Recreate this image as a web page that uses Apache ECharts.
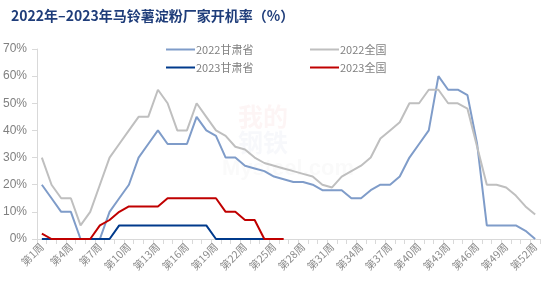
<!DOCTYPE html>
<html><head><meta charset="utf-8">
<script src="https://cdn.jsdelivr.net/npm/echarts@6/dist/echarts.min.js"></script>
<style>html,body{margin:0;padding:0;background:#fff}#c{width:554px;height:285px}</style>
</head><body><div id="c"></div>
<script>
var weeks = [];
for (var i = 1; i <= 52; i++) weeks.push('第' + i + '周');
var gansu2022 = [20,15,10,10,0,0,0,10,15,20,30,35,40,35,35,35,45,40,38,30,30,27,26,25,23,22,21,21,20,18,18,18,15,15,18,20,20,23,30,35,40,60,55,55,53,35,5,5,5,5,3,0];
var national2022 = [30,20,15,15,5,10,20,30,35,40,45,45,55,50,40,40,50,45,40,38,34,33,30,28,27,26,25,24,23,20,19,23,25,27,30,37,40,43,50,50,55,55,50,50,48,34,20,20,19,16,12,9];
var gansu2023 = [0,0,0,0,0,0,0,0,5,5,5,5,5,5,5,5,5,5,0,0,0,0,0,0,0];
var national2023 = [2,0,0,0,0,0,5,7,10,12,12,12,12,15,15,15,15,15,15,10,10,7,7,0,0,0];
var names = ['2022甘肃省','2022全国','2023甘肃省','2023全国'];
var colors = ['#7F9CC9','#BFBFBF','#003A8C','#C00000'];
var datas = [gansu2022, national2022, gansu2023, national2023];

var chart = echarts.init(document.getElementById('c'));
var font = 'Noto Sans CJK SC';
var legendCommon = {orient: 'vertical', top: 39, itemWidth: 29, itemHeight: 2, itemGap: 7,
  icon: 'rect',
  textStyle: {fontFamily: font, fontSize: 11, color: '#808080', padding: [0,0,0,-4]}};
chart.setOption({
  animation: false,
  color: colors,
  title: {
    text: '2022年–2023年马铃薯淀粉厂家开机率（%）',
    left: 6, top: 4,
    textStyle: {fontFamily: font, fontSize: 14, fontWeight: 'bold', color: '#1F3D7A'}
  },
  legend: [
    Object.assign({data: ['2022甘肃省','2023甘肃省'], left: 161}, legendCommon),
    Object.assign({data: ['2022全国','2023全国'], left: 305}, legendCommon)
  ],
  graphic: [
    {type: 'text', left: 238, top: 104, silent: true, z: -1,
     style: {text: '我的', fontFamily: font, fontSize: 25, fontWeight: 'bold', fill: 'rgba(210,60,60,0.05)'}},
    {type: 'text', left: 238, top: 130, silent: true, z: -1,
     style: {text: '钢铁', fontFamily: font, fontSize: 25, fontWeight: 'bold', fill: 'rgba(60,90,170,0.045)'}},
    {type: 'text', left: 222, top: 158, silent: true, z: -1,
     style: {text: 'Mysteel.com', fontFamily: 'Liberation Sans', fontSize: 22, fontWeight: 'bold', fill: 'rgba(150,150,150,0.045)'}}
  ],
  grid: {left: 36, right: 14, top: 49, bottom: 46},
  xAxis: {
    type: 'category', data: weeks, boundaryGap: true,
    axisLine: {lineStyle: {color: '#D9D9D9'}},
    axisTick: {show: true, interval: 0, lineStyle: {color: '#D9D9D9'}},
    axisLabel: {interval: 2, rotate: 45, fontFamily: font, fontSize: 10.5, color: '#8C8C8C', margin: 6}
  },
  yAxis: {
    type: 'value', min: 0, max: 70, interval: 10,
    axisLine: {show: true, lineStyle: {color: '#D9D9D9'}},
    axisTick: {show: true, lineStyle: {color: '#D9D9D9'}},
    splitLine: {show: false},
    axisLabel: {formatter: '{value}%', fontFamily: 'Liberation Sans', fontSize: 12, color: '#808080', margin: 10}
  },
  series: names.map(function (n, k) {
    return {name: n, type: 'line', data: datas[k], symbol: 'none',
      lineStyle: {width: 2, color: colors[k]}, itemStyle: {color: colors[k]}};
  })
});
</script></body></html>
